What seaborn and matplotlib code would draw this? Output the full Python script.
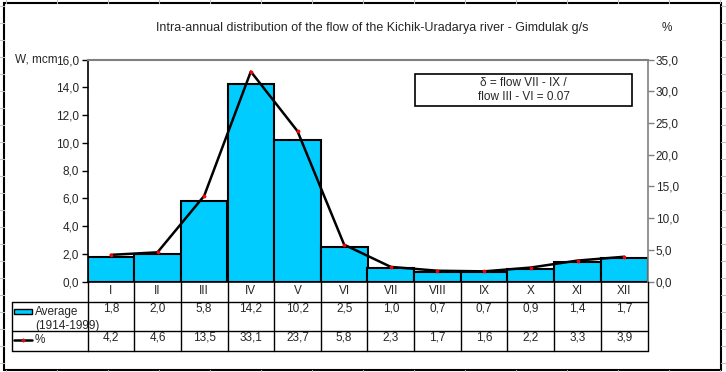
import matplotlib
matplotlib.use("Agg")
import matplotlib.pyplot as plt
import matplotlib.transforms as mtransforms
from matplotlib.lines import Line2D
from matplotlib.patches import Rectangle
import seaborn as sns
import numpy as np
import pandas as pd

# --- data ---
months = ['I', 'II', 'III', 'IV', 'V', 'VI', 'VII', 'VIII', 'IX', 'X', 'XI', 'XII']
avg_flow = [1.8, 2.0, 5.8, 14.2, 10.2, 2.5, 1.0, 0.7, 0.7, 0.9, 1.4, 1.7]
pct_flow = [4.2, 4.6, 13.5, 33.1, 23.7, 5.8, 2.3, 1.7, 1.6, 2.2, 3.3, 3.9]
left_ticks = [0, 2, 4, 6, 8, 10, 12, 14, 16]
right_ticks = [0, 5, 10, 15, 20, 25, 30, 35]

title = "Intra-annual distribution of the flow of the Kichik-Uradarya river - Gimdulak g/s"
note = "δ = flow VII - IX /\nflow III - VI = 0.07"

df = pd.DataFrame({'month': months, 'avg': avg_flow, 'pct': pct_flow})

sns.set_theme(style="white")
plt.rcParams['font.family'] = ['Liberation Sans', 'DejaVu Sans']

W, H = 726, 372
fig = plt.figure(figsize=(W / 100, H / 100), dpi=100)
fig.patch.set_facecolor('white')

cyan = '#00CCFF'
grey = '#808080'

def fx(px):
    return px / W

def fy(py):
    return 1 - py / H

# main plot area (pixels: 87.5..647.5 x 59.5..281.5)
ax = fig.add_axes([fx(87.5), fy(281.5), fx(647.5) - fx(87.5), fy(59.5) - fy(281.5)])
sns.barplot(data=df, x='month', y='avg', color=cyan, width=1.0, saturation=1,
            edgecolor='black', linewidth=1.5, ax=ax, zorder=2)
ax.set_xlim(-0.5, len(months) - 0.5)
ax.set_ylim(0, 16)
ax.set_yticks(left_ticks)
ax.set_yticklabels([f"{v:.1f}".replace('.', ',') for v in left_ticks], fontsize=8.5)
ax.set_xticks([])
ax.set_xlabel('')
ax.set_ylabel('')
ax.tick_params(axis='y', direction='out', length=4, width=1, color='black', pad=2, left=True)
for side in ['left', 'bottom']:
    ax.spines[side].set_color('black')
    ax.spines[side].set_linewidth(1.2)
ax.spines['top'].set_color(grey)
ax.spines['top'].set_linewidth(1.5)
ax.spines['right'].set_visible(False)

ax2 = ax.twinx()
sns.lineplot(x=np.arange(len(months)), y=pct_flow, ax=ax2, color='black', linewidth=1.8,
             marker='o', markersize=2, markerfacecolor='red', markeredgecolor='red', zorder=3)
ax2.set_ylim(0, 35)
ax2.set_xlim(-0.5, len(months) - 0.5)
ax2.set_yticks(right_ticks)
ax2.set_yticklabels([f"{v:.1f}".replace('.', ',') for v in right_ticks], fontsize=8.5)
ax2.tick_params(axis='y', direction='out', length=4, width=1, color=grey, pad=2, right=True)
ax2.spines['right'].set_color(grey)
ax2.spines['right'].set_linewidth(1.2)
for side in ['left', 'top', 'bottom']:
    ax2.spines[side].set_visible(False)
ax2.set_ylabel('')

# overlay in pixel coordinates for table, frame and labels
ov = fig.add_axes([0, 0, 1, 1], zorder=5)
ov.set_xlim(0, W)
ov.set_ylim(H, 0)
ov.axis('off')

# excel sheet gridlines outside the chart frame
for x in np.arange(6, W, 51):
    ov.add_line(Line2D([x, x], [0, 2.5], color='#c0c0c0', lw=0.8))
    ov.add_line(Line2D([x, x], [369.5, H], color='#c0c0c0', lw=0.8))
for y in np.arange(6, H, 17):
    ov.add_line(Line2D([0, 3.5], [y, y], color='#c0c0c0', lw=0.8))
    ov.add_line(Line2D([721, W], [y, y], color='#c0c0c0', lw=0.8))

# chart frame
ov.add_patch(Rectangle((3.5, 2.5), 717.5, 367, fill=False, ec='black', lw=1.5))

fs = 8.5
ov.text(372, 28, title, ha='center', va='center', fontsize=9)
ov.text(667, 28, '%', ha='center', va='center', fontsize=fs)
ov.text(15, 59, 'W, mcm', ha='left', va='center', fontsize=fs)

# note box
ov.add_patch(Rectangle((415, 74), 217, 32, fill=True, fc='white', ec='black', lw=1.2))
ov.text(523.5, 90, note, ha='center', va='center', fontsize=fs, linespacing=1.25)

# data table under the plot: x in category units, y in pixels
bt = mtransforms.blended_transform_factory(ax.transData, ov.transData)
y_top, y_r1, y_r2, y_bot = 281.5, 301.5, 330.5, 350.5
n = len(months)
for i in range(n + 1):
    ov.add_line(Line2D([i - 0.5, i - 0.5], [y_top, y_bot], color='black', lw=1.0, transform=bt))
for y in [y_r1, y_r2, y_bot]:
    ov.add_line(Line2D([-0.5, n - 0.5], [y, y], color='black', lw=1.0, transform=bt))
for i, m in enumerate(months):
    ov.text(i, 291, m, ha='center', va='center', fontsize=fs, transform=bt)
    ov.text(i, 308.5, f"{avg_flow[i]:.1f}".replace('.', ','), ha='center', va='center',
            fontsize=fs, transform=bt)
    ov.text(i, 338, f"{pct_flow[i]:.1f}".replace('.', ','), ha='center', va='center',
            fontsize=fs, transform=bt)

# legend cells at the left of the table
for y in [y_r1, y_r2, y_bot]:
    ov.add_line(Line2D([11.5, 87.5], [y, y], color='black', lw=1.0))
ov.add_line(Line2D([11.5, 11.5], [y_r1, y_bot], color='black', lw=1.0))
ov.add_patch(Rectangle((14, 309), 18, 5, fc=cyan, ec='black', lw=1))
ov.text(35, 311.5, 'Average', ha='left', va='center', fontsize=fs)
ov.text(35, 326, '(1914-1999)', ha='left', va='center', fontsize=fs)
ov.add_line(Line2D([14, 32], [340, 340], color='black', lw=1.8))
ov.plot([23], [340], marker='+', color='red', markersize=3, mew=1)
ov.text(35, 340, '%', ha='left', va='center', fontsize=fs)

fig.savefig('out.png', dpi=100, facecolor='white')
